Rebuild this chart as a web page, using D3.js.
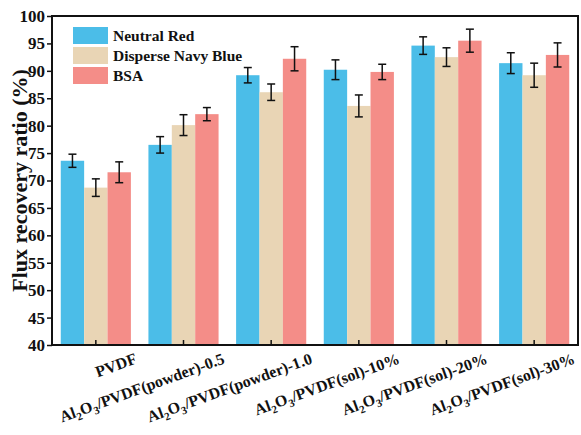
<!DOCTYPE html>
<html>
<head>
<meta charset="utf-8">
<script src="https://cdn.jsdelivr.net/npm/d3@7"></script>
<style>
  body { margin: 0; background: #fff; }
  svg { display: block; font-family: "Liberation Serif", "Times New Roman", serif; font-weight: bold; }
</style>
</head>
<body>
<svg id="chart" width="581" height="435"></svg>
<script>
const categories = ["PVDF", "Al2O3/PVDF(powder)-0.5", "Al2O3/PVDF(powder)-1.0",
                    "Al2O3/PVDF(sol)-10%", "Al2O3/PVDF(sol)-20%", "Al2O3/PVDF(sol)-30%"];
const seriesNames = ["Neutral Red", "Disperse Navy Blue", "BSA"];
const neutralRed = [73.6, 76.5, 89.2, 90.2, 94.6, 91.4];
const neutralRedErr = [1.2, 1.5, 1.4, 1.8, 1.6, 1.9];
const navyBlue = [68.7, 80.1, 86.1, 83.6, 92.5, 89.2];
const navyBlueErr = [1.6, 1.9, 1.5, 2.0, 1.7, 2.2];
const bsa = [71.5, 82.1, 92.2, 89.8, 95.5, 92.9];
const bsaErr = [1.9, 1.2, 2.2, 1.4, 2.1, 2.2];
const yTicks = d3.range(40, 101, 5);

const colors = ["#4bbde8", "#e9d5b5", "#f48d88"];
const values = [neutralRed, navyBlue, bsa];
const errors = [neutralRedErr, navyBlueErr, bsaErr];

const pLeft = 52, pRight = 578, pTop = 16, pBottom = 345;

const svg = d3.select("#chart");

const x = d3.scaleBand(categories, [pLeft, pRight]);
const xs = d3.scaleBand(seriesNames, [x.bandwidth() * 0.1, x.bandwidth() * 0.9]);
const y = d3.scaleLinear([40, 100], [pBottom, pTop]);

// bars
seriesNames.forEach((s, si) => {
  const g = svg.append("g");
  g.selectAll("rect")
    .data(categories)
    .enter()
    .append("rect")
    .attr("x", d => x(d) + xs(s))
    .attr("y", (d, i) => y(values[si][i]))
    .attr("width", xs.bandwidth())
    .attr("height", (d, i) => y(40) - y(values[si][i]))
    .attr("fill", colors[si]);

  // error bars
  categories.forEach((c, i) => {
    const cx = x(c) + xs(s) + xs.bandwidth() / 2;
    const hi = y(values[si][i] + errors[si][i]);
    const lo = y(values[si][i] - errors[si][i]);
    g.append("line").attr("x1", cx).attr("x2", cx).attr("y1", hi).attr("y2", lo)
      .attr("stroke", "#111").attr("stroke-width", 1.5);
    [hi, lo].forEach(yy => {
      g.append("line").attr("x1", cx - 4).attr("x2", cx + 4).attr("y1", yy).attr("y2", yy)
        .attr("stroke", "#111").attr("stroke-width", 1.5);
    });
  });
});

// frame
svg.append("rect")
  .attr("x", pLeft).attr("y", pTop)
  .attr("width", pRight - pLeft).attr("height", pBottom - pTop)
  .attr("fill", "none").attr("stroke", "#111").attr("stroke-width", 2);

// y axis
const yAxis = svg.append("g")
  .attr("transform", `translate(${pLeft}, 0)`)
  .call(d3.axisLeft(y).tickValues(yTicks).tickSize(5).tickPadding(2));
yAxis.select(".domain").remove();
yAxis.selectAll("line").attr("stroke", "#111").attr("stroke-width", 1.5);
yAxis.selectAll("text")
  .attr("font-size", "17px")
  .attr("font-family", "Liberation Serif, serif")
  .attr("font-weight", "bold")
  .attr("fill", "#111");

// x axis ticks (inward)
const xAxis = svg.append("g")
  .attr("transform", `translate(0, ${pBottom})`)
  .call(d3.axisBottom(x).tickSize(-5).tickFormat(""));
xAxis.select(".domain").remove();
xAxis.selectAll("line").attr("stroke", "#111").attr("stroke-width", 1.5);

// rotated category labels with subscripts
categories.forEach((c, i) => {
  const t = svg.append("text")
    .attr("transform", `translate(${x(c) + x.bandwidth() / 2 + 42}, 363) rotate(-20)`)
    .attr("text-anchor", "end")
    .attr("font-size", "16px")
    .attr("fill", "#111");
  const m = c.match(/^Al2O3(.*)$/);
  if (m) {
    t.append("tspan").text("Al");
    t.append("tspan").attr("dy", 4).attr("font-size", "11px").text("2");
    t.append("tspan").attr("dy", -4).text("O");
    t.append("tspan").attr("dy", 4).attr("font-size", "11px").text("3");
    t.append("tspan").attr("dy", -4).text(m[1]);
  } else {
    t.text(c);
  }
});

// y title
svg.append("text")
  .attr("transform", `translate(27, ${(pTop + pBottom) / 2}) rotate(-90)`)
  .attr("text-anchor", "middle")
  .attr("font-size", "22px")
  .attr("fill", "#111")
  .text("Flux recovery ratio (%)");

// legend
const legend = svg.append("g").attr("transform", "translate(73, 27)");
seriesNames.forEach((s, i) => {
  legend.append("rect")
    .attr("x", 0).attr("y", i * 20)
    .attr("width", 35).attr("height", 17)
    .attr("fill", colors[i]);
  legend.append("text")
    .attr("x", 40).attr("y", i * 20 + 14)
    .attr("font-size", "15.5px")
    .attr("fill", "#111")
    .text(s);
});
</script>
</body>
</html>
